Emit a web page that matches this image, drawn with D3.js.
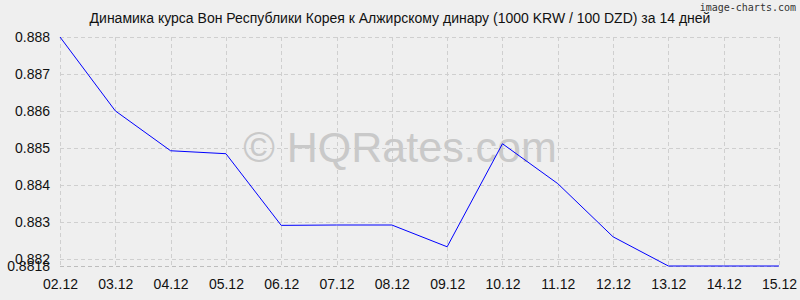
<!DOCTYPE html>
<html lang="ru">
<head>
<meta charset="utf-8">
<title>KRW / DZD</title>
<script src="https://d3js.org/d3.v7.min.js"></script>
<style>
  body { margin: 0; background: #efefef; }
  svg { display: block; font-family: "Liberation Sans", Arial, sans-serif; }
</style>
</head>
<body>
<div id="chart"></div>
<script>
// data
var dates = ["02.12","03.12","04.12","05.12","06.12","07.12","08.12","09.12","10.12","11.12","12.12","13.12","14.12","15.12"];
var rates = [0.8880, 0.8860, 0.88492, 0.88484, 0.88290, 0.88291, 0.88291, 0.88232, 0.88511, 0.88403, 0.88259, 0.8818, 0.8818, 0.8818];
var yTicks = [0.8818, 0.882, 0.883, 0.884, 0.885, 0.886, 0.887, 0.888];
var title = "Динамика курса Вон Республики Корея к Алжирскому динару (1000 KRW / 100 DZD) за 14 дней";

var W = 800, H = 300;
var margin = {top: 37, right: 21, bottom: 34, left: 60};

var svg = d3.select("#chart").append("svg")
    .attr("width", W)
    .attr("height", H);

svg.append("rect").attr("width", W).attr("height", H).attr("fill", "#efefef");

var x = d3.scalePoint()
    .domain(dates)
    .range([margin.left, W - margin.right]);

var y = d3.scaleLinear()
    .domain([0.8818, 0.888])
    .range([H - margin.bottom, margin.top]);

// grid
var grid = svg.append("g")
    .attr("stroke", "#cfcfcf")
    .attr("stroke-dasharray", "4,3")
    .attr("shape-rendering", "crispEdges");

grid.selectAll(".v").data(dates).enter().append("line")
    .attr("x1", function(d) { return Math.round(x(d)) + 0.5; })
    .attr("x2", function(d) { return Math.round(x(d)) + 0.5; })
    .attr("y1", margin.top)
    .attr("y2", H - margin.bottom);

grid.selectAll(".h").data(yTicks).enter().append("line")
    .attr("x1", margin.left)
    .attr("x2", W - margin.right)
    .attr("y1", function(d) { return Math.round(y(d)) + 0.5; })
    .attr("y2", function(d) { return Math.round(y(d)) + 0.5; })
    .attr("stroke", function(d) { return d === 0.8818 ? "#bdbdbd" : null; });

// watermark
svg.append("text")
    .attr("x", 400)
    .attr("y", 162)
    .attr("text-anchor", "middle")
    .attr("font-size", 43)
    .attr("fill", "#c9c9c9")
    .text("© HQRates.com");

// axes
var yAxis = svg.append("g")
    .attr("transform", "translate(" + margin.left + ",0)")
    .call(d3.axisLeft(y).tickValues(yTicks).tickSize(0).tickPadding(10)
      .tickFormat(function(d) { return d === 0.8818 ? "0.8818" : d3.format(".3f")(d); }));
yAxis.select(".domain").remove();
yAxis.selectAll("text").attr("font-size", 14).attr("fill", "#111").attr("font-family", null);

var xAxis = svg.append("g")
    .attr("transform", "translate(0," + (H - margin.bottom) + ")")
    .call(d3.axisBottom(x).tickSize(0).tickPadding(13));
xAxis.select(".domain").remove();
xAxis.selectAll("text").attr("font-size", 14).attr("fill", "#111").attr("font-family", null);

// line
var line = d3.line()
    .x(function(d, i) { return x(dates[i]); })
    .y(function(d) { return y(d); });

svg.append("path")
    .datum(rates)
    .attr("fill", "none")
    .attr("stroke", "#0000ff")
    .attr("stroke-width", 1)
    .attr("d", line);

// title
svg.append("text")
    .attr("x", 400)
    .attr("y", 23)
    .attr("text-anchor", "middle")
    .attr("font-size", 14)
    .attr("fill", "#111")
    .text(title);

svg.append("text")
    .attr("x", 796)
    .attr("y", 11)
    .attr("text-anchor", "end")
    .attr("font-size", 10)
    .attr("font-family", "DejaVu Sans Mono, monospace")
    .attr("fill", "#333")
    .text("image-charts.com");
</script>
</body>
</html>
